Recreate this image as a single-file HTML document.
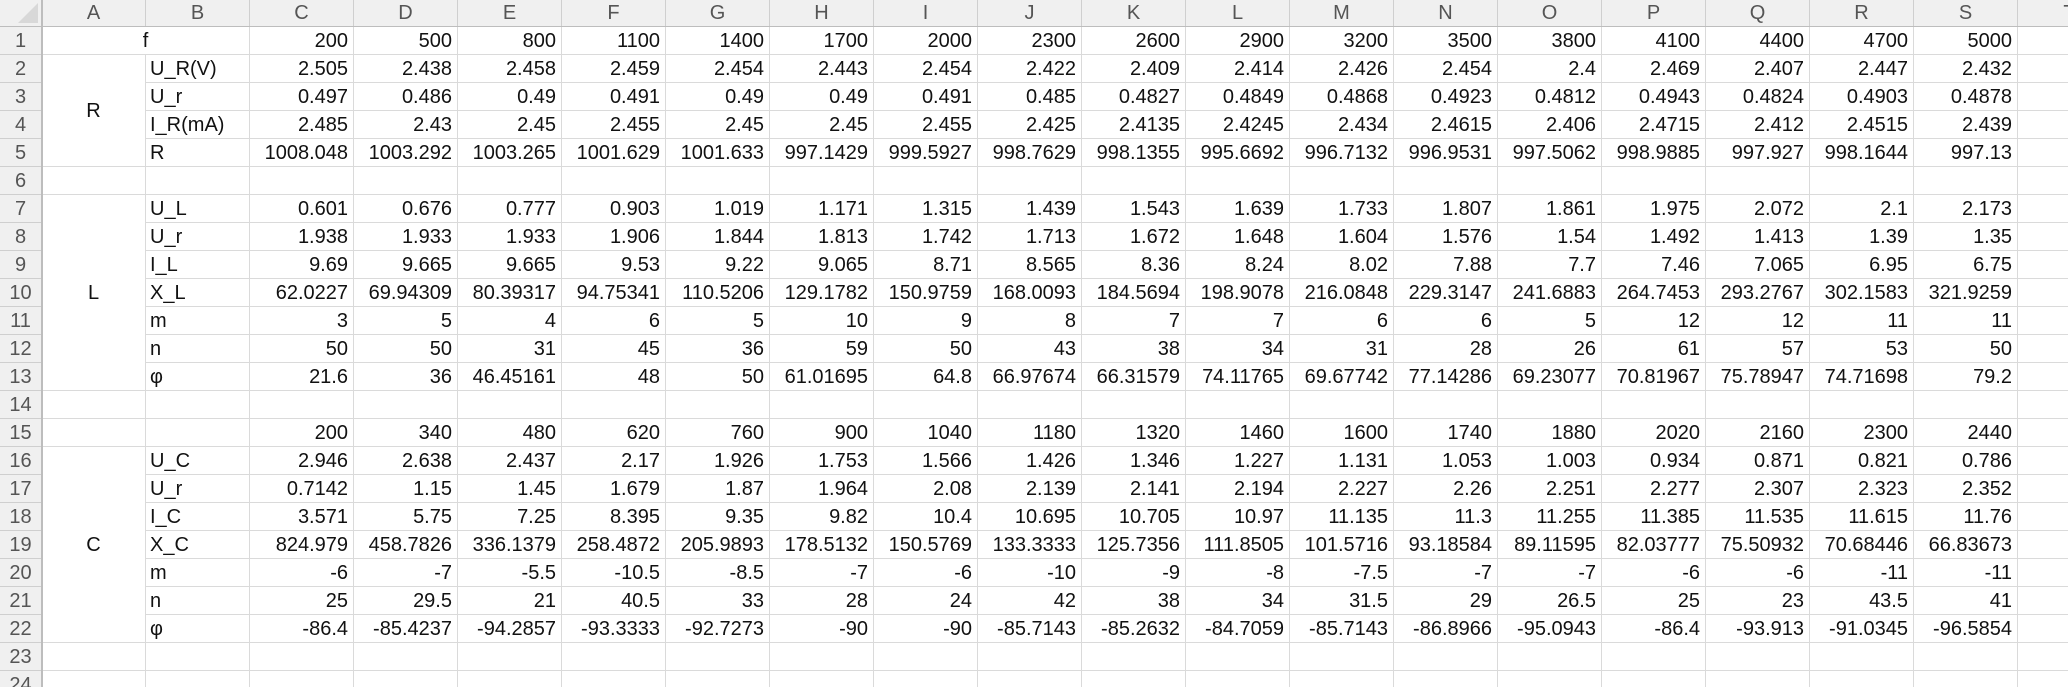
<!DOCTYPE html>
<html><head><meta charset="utf-8">
<style>
html,body{margin:0;padding:0;background:#fff;}
#sheet{position:relative;width:2068px;height:687px;overflow:hidden;font-family:"Liberation Sans",sans-serif;}
.c{position:absolute;box-sizing:border-box;border-right:1px solid #dadada;border-bottom:1px solid #dadada;font-size:20px;line-height:28px;color:#111;white-space:nowrap;overflow:visible;}
.h{background:#f0f0f0;color:#555;text-align:center;border-color:#cfcfcf;}
.num{text-align:right;padding-right:5px;}
.lbl{text-align:left;padding-left:4px;}
.mid{text-align:center;}
</style></head><body>
<div id="sheet"></div>
<script>
const letters=["A","B","C","D","E","F","G","H","I","J","K","L","M","N","O","P","Q","R","S","T"];
const rowLabels={2:"U_R(V)",3:"U_r",4:"I_R(mA)",5:"R",7:"U_L",8:"U_r",9:"I_L",10:"X_L",11:"m",12:"n",13:"φ",16:"U_C",17:"U_r",18:"I_C",19:"X_C",20:"m",21:"n",22:"φ"};
const rowData={
1:["200","500","800","1100","1400","1700","2000","2300","2600","2900","3200","3500","3800","4100","4400","4700","5000"],
2:["2.505","2.438","2.458","2.459","2.454","2.443","2.454","2.422","2.409","2.414","2.426","2.454","2.4","2.469","2.407","2.447","2.432"],
3:["0.497","0.486","0.49","0.491","0.49","0.49","0.491","0.485","0.4827","0.4849","0.4868","0.4923","0.4812","0.4943","0.4824","0.4903","0.4878"],
4:["2.485","2.43","2.45","2.455","2.45","2.45","2.455","2.425","2.4135","2.4245","2.434","2.4615","2.406","2.4715","2.412","2.4515","2.439"],
5:["1008.048","1003.292","1003.265","1001.629","1001.633","997.1429","999.5927","998.7629","998.1355","995.6692","996.7132","996.9531","997.5062","998.9885","997.927","998.1644","997.13"],
7:["0.601","0.676","0.777","0.903","1.019","1.171","1.315","1.439","1.543","1.639","1.733","1.807","1.861","1.975","2.072","2.1","2.173"],
8:["1.938","1.933","1.933","1.906","1.844","1.813","1.742","1.713","1.672","1.648","1.604","1.576","1.54","1.492","1.413","1.39","1.35"],
9:["9.69","9.665","9.665","9.53","9.22","9.065","8.71","8.565","8.36","8.24","8.02","7.88","7.7","7.46","7.065","6.95","6.75"],
10:["62.0227","69.94309","80.39317","94.75341","110.5206","129.1782","150.9759","168.0093","184.5694","198.9078","216.0848","229.3147","241.6883","264.7453","293.2767","302.1583","321.9259"],
11:["3","5","4","6","5","10","9","8","7","7","6","6","5","12","12","11","11"],
12:["50","50","31","45","36","59","50","43","38","34","31","28","26","61","57","53","50"],
13:["21.6","36","46.45161","48","50","61.01695","64.8","66.97674","66.31579","74.11765","69.67742","77.14286","69.23077","70.81967","75.78947","74.71698","79.2"],
15:["200","340","480","620","760","900","1040","1180","1320","1460","1600","1740","1880","2020","2160","2300","2440"],
16:["2.946","2.638","2.437","2.17","1.926","1.753","1.566","1.426","1.346","1.227","1.131","1.053","1.003","0.934","0.871","0.821","0.786"],
17:["0.7142","1.15","1.45","1.679","1.87","1.964","2.08","2.139","2.141","2.194","2.227","2.26","2.251","2.277","2.307","2.323","2.352"],
18:["3.571","5.75","7.25","8.395","9.35","9.82","10.4","10.695","10.705","10.97","11.135","11.3","11.255","11.385","11.535","11.615","11.76"],
19:["824.979","458.7826","336.1379","258.4872","205.9893","178.5132","150.5769","133.3333","125.7356","111.8505","101.5716","93.18584","89.11595","82.03777","75.50932","70.68446","66.83673"],
20:["-6","-7","-5.5","-10.5","-8.5","-7","-6","-10","-9","-8","-7.5","-7","-7","-6","-6","-11","-11"],
21:["25","29.5","21","40.5","33","28","24","42","38","34","31.5","29","26.5","25","23","43.5","41"],
22:["-86.4","-85.4237","-94.2857","-93.3333","-92.7273","-90","-90","-85.7143","-85.2632","-84.7059","-85.7143","-86.8966","-95.0943","-86.4","-93.913","-91.0345","-96.5854"]
};
const groups=[["R",2,5],["L",7,13],["C",16,22]];
const S=document.getElementById('sheet');
const HW=42,CW=104,HH=27,RH=28,NROWS=24;
function cell(x,y,w,h,cls,txt){const d=document.createElement('div');d.className='c '+cls;d.style.left=x+'px';d.style.top=y+'px';d.style.width=w+'px';d.style.height=h+'px';d.textContent=txt;S.appendChild(d);return d;}
function colX(i){return HW+i*CW;}
function rowY(r){return HH+(r-1)*RH;}
let e=cell(0,0,HW,HH,'h','');


e.innerHTML='<div style="position:absolute;right:3px;bottom:3px;width:0;height:0;border-left:20px solid transparent;border-bottom:20px solid #d8d8d8"></div>';
letters.forEach((L,i)=>{const d=cell(colX(i),0,CW,HH,'h',L);d.style.lineHeight='27px';

});
for(let r=1;r<=NROWS;r++){const d=cell(0,rowY(r),HW,RH,'h',String(r));

}
function inGroup(r){return groups.find(g=>r>=g[1]&&r<=g[2]);}
for(let r=1;r<=NROWS;r++){
 for(let i=0;i<letters.length;i++){
  if(i===0&&inGroup(r))continue;
  if(r===1&&(i===0||i===1))continue;
  let txt='',cls='';
  if(i===1&&rowLabels[r]){txt=rowLabels[r];cls='lbl';}
  else if(i>=2&&i<=18&&rowData[r]){txt=rowData[r][i-2];cls='num';}
  const d=cell(colX(i),rowY(r),CW,RH,cls,txt);
  
  
 }
}
let f=cell(colX(0),rowY(1),CW*2,RH,'mid','f');


groups.forEach(g=>{const h=(g[2]-g[1]+1)*RH;const d=cell(colX(0),rowY(g[1]),CW,h,'mid',g[0]);d.style.lineHeight=h+'px';

});
const v=document.createElement('div');v.style.cssText='position:absolute;left:41px;top:0;width:2px;height:687px;background:#bdbdbd';S.appendChild(v);
const hz=document.createElement('div');hz.style.cssText='position:absolute;left:0;top:26px;width:2068px;height:1px;background:#bdbdbd';S.appendChild(hz);
</script>
</body></html>
